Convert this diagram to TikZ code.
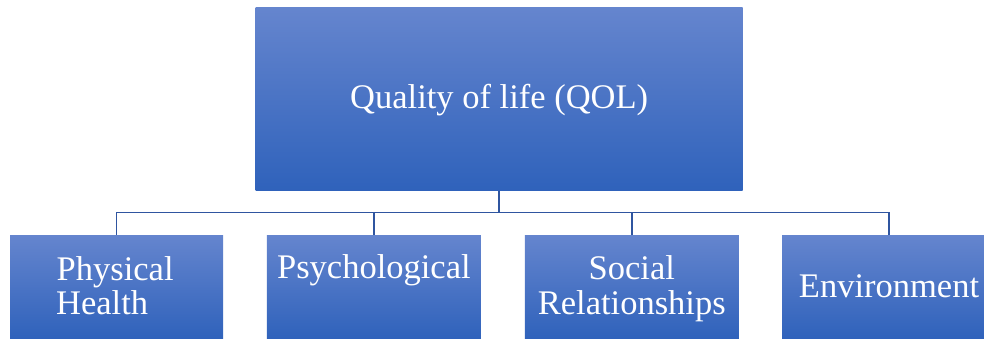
\documentclass[tikz,border=0pt]{standalone}
\usepackage{fontspec}
\setmainfont{Liberation Serif}
\definecolor{gtop}{RGB}{101,133,206}
\definecolor{gbot}{RGB}{47,98,187}
\definecolor{conn}{RGB}{47,85,160}
\tikzset{
  box/.style={draw=none, top color=gtop, bottom color=gbot, inner sep=0pt, outer sep=0pt},
  lbl/.style={text=white, font=\fontsize{34.5}{34.5}\selectfont, inner sep=0pt},
  conline/.style={draw=conn, line width=1.5pt}
}
\begin{document}
\begin{tikzpicture}[x=1pt,y=-1pt]
\useasboundingbox (0,0) rectangle (984,339);
\clip (0,0) rectangle (984,339);
% boxes
\node[box, minimum width=487pt, minimum height=183pt] (top) at (499.2,99.3) {};
\node[box, minimum width=213pt, minimum height=104pt] (b1) at (116.7,287) {};
\node[box, minimum width=214pt, minimum height=104pt] (b2) at (373.9,287) {};
\node[box, minimum width=214pt, minimum height=104pt] (b3) at (631.8,287) {};
\node[box, minimum width=214pt, minimum height=104pt] (b4) at (889,287) {};
% labels
\node[lbl, anchor=base] (t0) at (499.2,108.3) {Quality of life (QOL)};
\node[lbl, anchor=base west] (t1a) at (56.5,280) {Physical};
\node[lbl, anchor=base west] (t1b) at (56,314.3) {Health};
\node[lbl, anchor=base] (t2) at (373.9,278.5) {Psychological};
\node[lbl, anchor=base] (t3a) at (631.8,279.3) {Social};
\node[lbl, anchor=base] (t3b) at (631.8,314) {Relationships};
\node[lbl, anchor=base] (t4) at (889,297.3) {Environment};
% connectors
\coordinate (hub) at (499.2,212.7);
\draw[conline, line width=2pt] (top.south) -- (hub);
\draw[conline] (b1.north) |- (hub);
\draw[conline] (b4.north) |- (hub);
\draw[conline] (b2.north) -- (b2.north |- hub);
\draw[conline] (b3.north) -- (b3.north |- hub);
\end{tikzpicture}
\end{document}
